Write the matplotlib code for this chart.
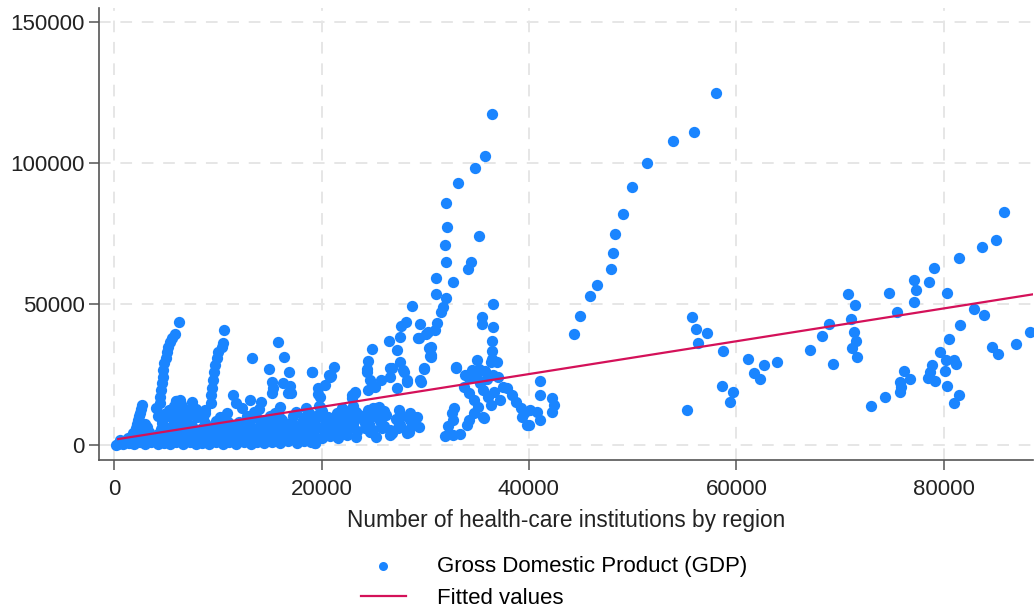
import numpy as np
import matplotlib.pyplot as plt
from matplotlib.ticker import FuncFormatter

# values, in thousands (x = institutions, y = GDP)
# tall left spikes
spikes = [(6.3, 43.6), (5.9, 39.5), (5.6, 37.9), (5.4, 36.7), (5.2, 35.0), (5.1, 33.2),
          (5.0, 30.8), (4.8, 29.1), (4.7, 26.7), (4.7, 24.3), (4.6, 22.0), (4.5, 19.6),
          (4.4, 17.2), (4.4, 14.9), (2.7, 14.3), (2.6, 13.0), (2.5, 11.6), (2.4, 10.2),
          (2.3, 8.8), (2.2, 7.4), (2.1, 6.0),
          (10.6, 40.9), (10.5, 36.2), (10.4, 35.0), (10.0, 33.2), (9.9, 30.8), (9.7, 28.5),
          (9.6, 26.1), (9.5, 23.2), (9.4, 20.2), (9.3, 17.8), (9.3, 14.9), (8.8, 12.5)]

# dense band near the bottom
band = [(0.2, 0.2), (0.4, 0.6), (0.9, 0.3), (1.4, 0.9), (1.9, 0.4), (2.5, 1.0), (3.0, 0.5),
        (3.6, 1.1), (4.2, 0.4), (4.8, 0.9), (5.4, 0.3), (6.0, 1.0), (6.6, 0.5), (7.3, 1.2),
        (7.9, 0.4), (8.5, 0.9), (9.2, 0.5), (9.8, 1.1), (10.5, 0.6), (11.1, 1.2), (11.8, 0.5),
        (12.5, 1.0), (13.2, 0.6), (13.8, 1.3), (14.5, 0.7), (15.2, 1.2), (16.0, 0.8),
        (16.8, 1.4), (17.6, 0.9), (18.3, 1.5), (19.0, 1.0), (19.4, 0.7), (16.3, 2.1), (17.8, 2.8),
        (0.6, 2.0), (1.3, 2.6), (2.0, 2.1), (2.8, 2.7), (3.5, 2.2), (4.3, 2.8), (5.0, 2.3),
        (5.8, 2.9), (6.5, 2.2), (7.3, 2.8), (8.0, 2.3), (8.8, 3.0), (9.5, 2.4), (10.3, 3.0),
        (11.0, 2.5), (11.8, 3.1), (12.5, 2.6), (13.3, 3.2), (14.0, 2.7), (14.8, 3.3), (15.5, 2.8),
        (17.0, 3.5), (18.5, 3.2), (19.3, 3.7), (20.0, 2.6), (20.8, 3.4), (21.6, 2.7),
        (22.5, 3.6), (23.3, 2.9), (24.7, 4.8), (25.3, 3.0), (26.6, 3.7), (26.8, 4.3), (28.2, 4.3),
        (24.8, 4.8), (1.8, 4.3), (2.6, 3.8), (3.4, 4.6), (4.2, 4.0), (5.0, 4.8), (5.8, 4.1),
        (6.6, 4.9), (7.4, 4.2), (8.2, 5.0), (9.0, 4.3), (9.8, 5.1), (10.6, 4.4), (11.4, 5.2),
        (12.2, 4.5), (13.0, 5.3), (13.8, 4.6), (14.6, 5.4), (15.4, 4.7), (16.2, 5.5), (17.0, 4.8),
        (17.8, 5.6), (18.6, 4.9), (19.4, 5.7), (20.2, 5.0), (21.0, 5.8), (21.8, 5.1),
        (22.6, 5.9), (23.4, 5.2), (24.2, 6.0), (25.0, 5.3), (25.8, 6.1), (26.6, 5.4),
        (27.4, 6.2), (28.3, 5.5), (2.3, 5.8), (3.2, 6.4), (4.5, 5.9), (5.5, 6.6), (6.5, 6.0),
        (7.5, 6.7), (8.5, 6.1), (9.5, 6.8), (10.4, 6.2), (11.3, 6.9), (12.2, 6.3), (13.1, 7.0),
        (14.0, 6.4), (14.9, 7.1), (15.8, 6.5), (16.7, 7.2), (17.6, 6.6), (18.5, 7.3),
        (19.4, 6.7), (20.3, 7.4), (21.2, 6.8), (22.1, 7.5), (23.0, 6.9), (24.6, 7.6),
        (26.0, 7.0), (27.5, 7.7), (28.8, 7.1), (3.0, 7.6), (4.6, 8.0), (6.2, 7.7), (7.0, 8.3),
        (8.8, 7.9), (9.8, 8.5), (11.0, 8.1), (12.0, 8.4), (13.0, 8.0), (14.2, 8.6),
        (15.2, 8.2), (16.2, 8.8), (17.2, 8.3), (18.2, 8.9), (19.3, 8.4), (20.3, 9.0),
        (21.2, 8.5), (22.2, 9.1), (23.1, 8.6), (24.0, 9.2), (25.6, 8.7), (27.2, 9.3),
        (28.5, 8.8), (4.7, 9.5), (6.4, 10.0), (8.6, 9.6), (10.2, 10.1), (12.8, 10.2),
        (13.8, 9.7), (15.0, 10.3), (16.0, 9.8), (17.3, 10.4), (18.4, 9.9), (19.5, 10.5),
        (20.6, 10.0), (21.6, 10.6), (22.6, 10.1), (23.6, 10.7), (25.0, 10.2), (26.2, 10.8),
        (27.8, 10.3), (6.5, 11.2), (8.8, 11.5), (10.9, 11.3), (13.5, 11.7), (15.5, 11.4),
        (17.5, 11.9), (18.8, 11.5), (20.0, 12.1), (21.5, 11.6), (22.3, 12.3), (23.3, 11.8),
        (24.5, 12.4), (26.0, 12.0), (27.5, 12.6), (14.0, 13.0), (16.0, 13.4), (18.5, 13.2),
        (19.8, 13.8), (22.0, 13.1), (23.0, 13.9), (25.5, 13.5), (7.3, 10.7), (8.0, 10.1)]

# clumps sitting above the band, x below 30k
clumps = [(4.8, 11.0), (5.3, 12.5), (5.8, 13.8), (6.3, 12.0), (6.8, 10.5), (5.6, 9.6),
          (6.5, 14.5), (7.2, 12.8), (7.5, 15.3), (7.9, 13.0), (6.0, 15.8), (6.1, 14.0),
          (6.4, 16.1), (5.6, 12.5), (4.2, 10.2), (4.0, 13.2),
          (13.3, 30.9), (15.8, 36.5), (16.4, 31.4), (14.9, 27.1), (16.9, 25.9),
          (15.2, 22.6), (15.3, 20.2), (15.2, 18.4), (16.3, 22.2), (17.0, 21.0), (16.8, 18.4),
          (17.1, 18.7), (19.1, 25.9), (21.2, 27.9), (20.8, 24.3), (20.3, 21.4), (20.7, 24.9),
          (19.7, 20.2), (19.9, 17.2), (19.7, 18.0), (11.5, 17.8), (11.8, 14.9), (13.1, 16.1),
          (14.2, 15.5), (12.3, 13.1), (6.0, 15.8), (19.4, 0.7), (19.1, 25.9), (20.9, 24.7),
          (19.9, 13.7), (22.9, 17.8), (23.2, 18.4), (22.1, 12.5), (25.0, 13.1), (25.5, 11.3),
          (25.7, 7.8), (27.6, 7.2), (28.4, 4.8), (28.9, 7.8), (29.2, 10.1), (29.4, 6.6),
          (24.2, 7.8), (25.3, 13.1), (25.5, 10.7), (28.5, 11.3), (29.0, 9.0), (28.9, 7.8),
          (23.2, 19.0), (22.9, 16.7), (24.7, 23.2), (25.2, 20.8), (24.5, 19.6), (25.7, 23.2),
          (27.3, 20.2), (29.5, 23.2), (29.9, 27.3), (27.6, 29.6), (26.8, 27.3), (26.6, 24.3),
          (27.9, 26.7), (28.2, 23.2), (24.5, 29.9), (24.4, 26.1), (24.9, 34.0), (26.5, 37.0),
          (27.3, 33.8), (27.6, 38.5), (26.6, 27.3), (28.0, 26.1), (28.2, 22.6),
          (28.7, 49.4), (28.1, 43.8), (27.7, 42.1), (29.5, 43.0), (30.3, 40.3), (29.3, 37.9),
          (30.5, 34.4), (30.6, 31.4), (29.6, 22.6), (29.9, 27.2), (24.4, 27.0)]

# rising chain and cloud around x = 30k-42k
middle = [(36.4, 117.4), (35.8, 102.6), (34.8, 98.4), (33.2, 93.1), (32.0, 85.7),
          (32.1, 77.3), (31.9, 71.1), (32.0, 64.8), (35.2, 74.0), (34.4, 64.8), (34.1, 62.3),
          (31.0, 59.2), (32.7, 57.9), (31.0, 53.7), (32.0, 52.2), (31.7, 49.1), (31.5, 47.2),
          (36.5, 50.1), (35.5, 45.5), (35.5, 42.9), (36.5, 41.8), (36.4, 37.1), (36.4, 33.5),
          (36.4, 30.6), (35.0, 30.2), (31.1, 43.5), (30.9, 40.9), (30.1, 39.5), (29.4, 38.0),
          (30.6, 35.0), (30.6, 32.0), (30.4, 34.6), (30.5, 31.7),
          (33.0, 27.7), (36.3, 29.6), (36.9, 29.6), (33.8, 25.0), (34.5, 26.5), (35.2, 27.0),
          (35.8, 26.2), (36.5, 25.0), (37.0, 24.2), (34.2, 23.8), (35.0, 24.0), (36.0, 23.5),
          (33.7, 20.8), (34.2, 18.4), (34.7, 16.1), (35.1, 13.7), (34.7, 11.3), (34.2, 9.0),
          (34.0, 7.2), (35.3, 22.0), (35.6, 19.6), (36.1, 17.2), (36.6, 19.0), (37.2, 16.1),
          (37.5, 20.8), (37.9, 20.2), (38.4, 17.8), (38.8, 15.5), (39.2, 13.1), (39.5, 11.3),
          (40.1, 12.5), (40.8, 11.9), (41.1, 9.0), (40.0, 7.2), (39.3, 10.0), (39.8, 7.2),
          (41.1, 22.8), (41.1, 17.7), (42.2, 16.7), (42.4, 14.3), (42.2, 11.9), (35.7, 9.6),
          (36.3, 14.3), (35.6, 9.9), (32.8, 13.1), (32.7, 9.0), (32.2, 7.0), (31.9, 3.3),
          (32.7, 3.7), (33.4, 4.0), (32.6, 11.6), (33.0, 27.5)]

# sparse points to the right
right = [(58.0, 124.7), (55.9, 111.1), (53.9, 107.9), (51.4, 99.9), (49.9, 91.5), (49.1, 82.0),
         (48.3, 74.7), (48.1, 68.1), (47.9, 62.4), (46.6, 56.8), (45.9, 52.9), (44.9, 45.9),
         (44.3, 39.4), (55.7, 45.6), (56.1, 41.3), (57.2, 39.7), (56.3, 36.2), (58.7, 33.5),
         (55.2, 12.5), (58.6, 21.0), (59.7, 18.8), (59.4, 15.4), (61.1, 30.7), (61.7, 25.5),
         (62.3, 23.4), (62.7, 28.4), (63.9, 29.4), (67.1, 33.8),
         (85.8, 82.7), (85.0, 72.7), (83.7, 70.4), (81.5, 66.4), (79.1, 62.9), (78.6, 58.0),
         (77.1, 58.6), (77.3, 55.1), (77.1, 50.6), (74.7, 54.1), (80.3, 53.9), (75.5, 47.3),
         (70.8, 53.5), (71.4, 49.8), (71.1, 44.9), (71.3, 40.1), (71.5, 37.0), (71.2, 34.4),
         (71.6, 31.4), (68.9, 42.9), (68.3, 38.9), (69.3, 28.8), (82.9, 48.4), (83.9, 46.2),
         (81.6, 42.8), (80.5, 37.7), (79.6, 33.0), (80.2, 30.2), (81.0, 30.2), (81.2, 28.7),
         (80.1, 26.2), (78.9, 28.5), (78.7, 25.9), (78.5, 24.0), (79.2, 22.8), (80.3, 21.1),
         (81.5, 17.8), (81.0, 15.1), (76.2, 26.2), (76.7, 23.6), (75.8, 22.6), (75.9, 20.8),
         (75.8, 18.9), (74.3, 17.0), (73.0, 13.9), (84.7, 35.0), (85.2, 32.4), (87.0, 35.9),
         (88.3, 40.2)]

# fitted line, read at both ends
fit_x = [0.4, 88.6]
fit_y = [2.2, 53.5]

pts = np.array(spikes + band + clumps + middle + right) * 1000

BLUE = '#1A85FF'
RED = '#D41159'

plt.rcParams['font.family'] = ['Liberation Sans', 'DejaVu Sans']

fig = plt.figure(figsize=(10.35, 6.1), dpi=100)
ax = fig.add_axes([0.0957, 0.246, 0.9023, 0.741])

ax.scatter(pts[:, 0], pts[:, 1], s=66, color=BLUE, linewidths=0, zorder=3,
           label='Gross Domestic Product (GDP)')
ax.plot(np.array(fit_x) * 1000, np.array(fit_y) * 1000, color=RED, lw=1.6, zorder=4,
        label='Fitted values')

ax.set_xlim(-1450, 88600)
ax.set_ylim(-5200, 155000)
ax.set_xticks([0, 20000, 40000, 60000, 80000])
ax.set_yticks([0, 50000, 100000, 150000])
fmt = FuncFormatter(lambda v, p: '%d' % v)
ax.xaxis.set_major_formatter(fmt)
ax.yaxis.set_major_formatter(fmt)

ax.grid(True, color='#E6E6E6', lw=1.4, ls=(0, (6, 5)), zorder=0)
for s in ['top', 'right']:
    ax.spines[s].set_visible(False)
for s in ['left', 'bottom']:
    ax.spines[s].set_color('#555555')
    ax.spines[s].set_linewidth(1.2)
ax.tick_params(axis='both', length=7, width=1.1, color='#555555', labelsize=16,
               labelcolor='#222222')
ax.tick_params(axis='x', pad=7)

ax.set_xlabel('Number of health-care institutions by region', fontsize=16.3, color='#222222',
              labelpad=6)

fig.legend(loc='upper left', bbox_to_anchor=(0.349, 0.089), frameon=False, fontsize=16,
           handlelength=2.0, handletextpad=1.4, labelspacing=0.5, borderaxespad=0,
           borderpad=0, markerscale=0.8)

fig.savefig('out.png', dpi=100)
